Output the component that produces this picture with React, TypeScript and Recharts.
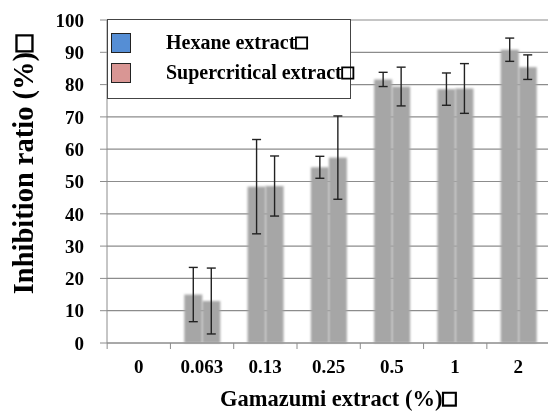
import React from "react";
import {
  Bar,
  BarChart,
  CartesianGrid,
  ErrorBar,
  Legend,
  XAxis,
  YAxis,
} from "recharts";

const categories = ["0", "0.063", "0.13", "0.25", "0.5", "1", "2"];
const hexane = [0, 15, 48.4, 54.4, 81.6, 78.6, 90.8];
const hexaneErr = [null, 8.4, 14.6, 3.4, 2.2, 5, 3.6];
const supercritical = [0, 13, 48.6, 57.4, 79.4, 78.8, 85.4];
const supercriticalErr = [null, 10.2, 9.3, 12.9, 6, 7.7, 3.8];
const yTicks = [0, 10, 20, 30, 40, 50, 60, 70, 80, 90, 100];

const data = categories.map((c, i) => ({
  conc: c,
  hexane: hexane[i],
  hexaneErr: hexaneErr[i],
  supercritical: supercritical[i],
  supercriticalErr: supercriticalErr[i],
}));

const FONT = '"Liberation Serif", "Times New Roman", serif';
const GRID = "#8c8c8c";

const SoftBar = (props: any) => {
  const { x, y, width, height } = props;
  if (!height || height <= 0) return null;
  return (
    <rect x={x} y={y} width={width} height={height} fill="#a6a6a6" filter="url(#soft)" />
  );
};

const XTick = (props: any) => {
  const { x, y, payload, index } = props;
  const band = 63;
  return (
    <g>
      <line x1={x - band / 2} y1={y - 8} x2={x - band / 2} y2={y - 2} stroke={GRID} />
      {index === categories.length - 1 && (
        <line x1={x + band / 2} y1={y - 8} x2={x + band / 2} y2={y - 2} stroke={GRID} />
      )}
      <text
        x={x}
        y={y + 22}
        textAnchor="middle"
        fontFamily={FONT}
        fontWeight="bold"
        fontSize={19}
        fill="#000"
      >
        {payload.value}
      </text>
    </g>
  );
};

// the missing-glyph box drawn heavy like the original
const Box = () => (
  <tspan stroke="#000" strokeWidth={1.3}>
    □
  </tspan>
);

const YTitle = () => (
  <text
    transform="translate(33,164.5) rotate(-90)"
    textAnchor="middle"
    fontFamily={FONT}
    fontWeight="bold"
    fontSize={28.5}
    fill="#000"
  >
    Inhibition ratio (%)
    <Box />
  </text>
);

const XTitle = () => (
  <text
    x={338}
    y={406}
    textAnchor="middle"
    fontFamily={FONT}
    fontWeight="bold"
    fontSize={22.5}
    fill="#000"
  >
    Gamazumi extract (%)
    <Box />
  </text>
);

const LegendBox = () => (
  <div
    style={{
      width: 244,
      height: 80,
      boxSizing: "border-box",
      border: "1.5px solid #444",
      background: "#fff",
      fontFamily: FONT,
      fontWeight: "bold",
      fontSize: 20,
      position: "relative",
    }}
  >
    {[
      { name: "Hexane extract", color: "#558ed5", top: 13 },
      { name: "Supercritical extract", color: "#d99694", top: 43 },
    ].map((it) => (
      <div key={it.name}>
        <div
          style={{
            position: "absolute",
            left: 3,
            top: it.top,
            width: 20,
            height: 20,
            background: it.color,
            border: "1px solid #222",
            boxSizing: "border-box",
          }}
        />
        <div
          style={{
            position: "absolute",
            left: 58,
            top: it.top - 3,
            lineHeight: "24px",
            whiteSpace: "nowrap",
          }}
        >
          {it.name}
          <span style={{ WebkitTextStroke: "1.1px #000" }}>□</span>
        </div>
      </div>
    ))}
  </div>
);

export default function App() {
  return (
    <div style={{ position: "fixed", left: 0, top: 0, width: 548, height: 411, background: "#fff" }}>
      <BarChart
        width={550}
        height={411}
        data={data}
        margin={{ top: 20, right: 0, bottom: 0, left: 0 }}
        barSize={18}
        barGap={0}
      >
        <defs>
          <filter id="soft" x="-20%" y="-5%" width="140%" height="110%">
            <feGaussianBlur stdDeviation="1" />
          </filter>
        </defs>
        <CartesianGrid vertical={false} stroke={GRID} strokeWidth={1.2} />
        <XAxis
          dataKey="conc"
          height={68}
          stroke={GRID}
          tickLine={false}
          tick={<XTick />}
          label={<XTitle />}
        />
        <YAxis
          width={107}
          domain={[0, 100]}
          ticks={yTicks}
          interval={0}
          stroke={GRID}
          tickSize={7}
          tickMargin={16}
          tick={{ fontFamily: FONT, fontWeight: "bold", fontSize: 19, fill: "#000" }}
          label={<YTitle />}
        />
        <Legend
          layout="vertical"
          align="center"
          verticalAlign="middle"
          wrapperStyle={{ left: 107, top: 19, width: 244 }}
          content={<LegendBox />}
        />
        <Bar dataKey="hexane" name="Hexane extract" shape={<SoftBar />} isAnimationActive={false}>
          <ErrorBar dataKey="hexaneErr" width={4.5} stroke="#222" strokeWidth={1.4} />
        </Bar>
        <Bar
          dataKey="supercritical"
          name="Supercritical extract"
          shape={<SoftBar />}
          isAnimationActive={false}
        >
          <ErrorBar dataKey="supercriticalErr" width={4.5} stroke="#222" strokeWidth={1.4} />
        </Bar>
      </BarChart>
    </div>
  );
}
